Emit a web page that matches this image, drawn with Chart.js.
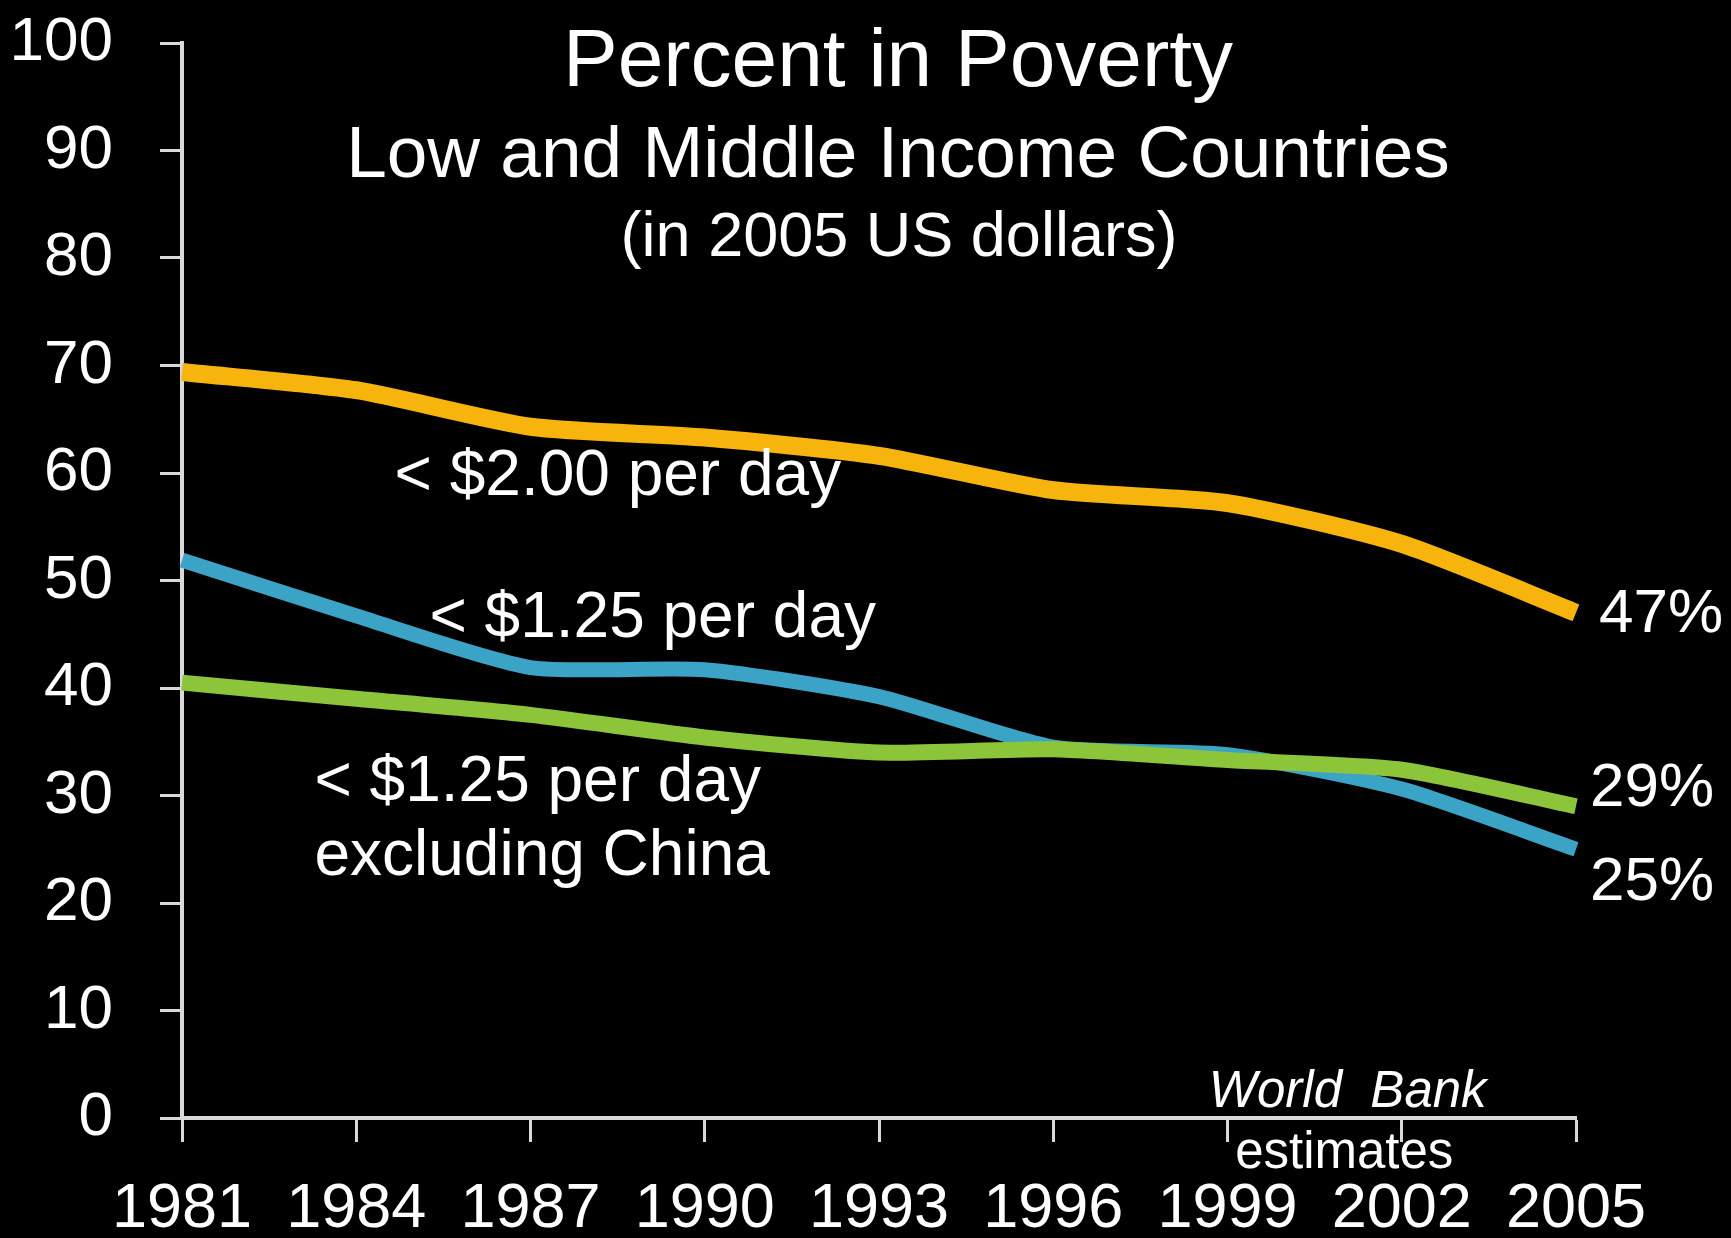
<!DOCTYPE html>
<html>
<head>
<meta charset="utf-8">
<title>Percent in Poverty</title>
<script src="https://cdn.jsdelivr.net/npm/chart.js@4.4.1/dist/chart.umd.min.js"></script>
<style>
  html, body { margin: 0; padding: 0; background: #000; }
  #wrap { width: 1731px; height: 1238px; position: relative; }
</style>
</head>
<body>
<div id="wrap"><canvas id="povertyChart"></canvas></div>
<script>
// survey years and poverty headcounts (% of population)
const years = ["1981", "1984", "1987", "1990", "1993", "1996", "1999", "2002", "2005"];
const under200 = [69.4, 67.7, 64.3, 63.3, 61.6, 58.4, 57.2, 53.4, 47];
const under125 = [51.9, 46.7, 41.9, 41.7, 39.2, 34.5, 33.8, 30.6, 25];
const under125exChina = [40.5, 39.0, 37.5, 35.4, 34.0, 34.3, 33.3, 32.4, 29];

const yTicks = [0, 10, 20, 30, 40, 50, 60, 70, 80, 90, 100];

const titleLines = ["Percent in Poverty", "Low and Middle Income Countries", "(in 2005 US dollars)"];
const seriesNames = ["< $2.00 per day", "< $1.25 per day", "< $1.25 per day\nexcluding China"];
const sourceNote = ["World  Bank", "estimates"];

const COLORS = { gold: "#f7b40c", blue: "#3ba3c5", green: "#8dc53a", axis: "#d9d9d9" };
const ARIAL = '"Liberation Sans", Arial, sans-serif';

/* ---------- text drawn over the plot ---------- */
const overlayText = {
  id: "overlayText",
  afterDatasetsDraw(chart) {
    const { ctx, scales: { x, y } } = chart;
    const last = years.length - 1;
    ctx.save();
    ctx.fillStyle = "#fff";

    // title block
    ctx.textAlign = "center";
    ctx.textBaseline = "alphabetic";
    ctx.font = `82px ${ARIAL}`;
    ctx.fillText(titleLines[0], 898, 86);
    ctx.font = `73px ${ARIAL}`;
    ctx.fillText(titleLines[1], 898, 177);
    ctx.font = `63px ${ARIAL}`;
    ctx.fillText(titleLines[2], 899, 256);

    // series names, anchored in data units (category index, percent)
    const names = [
      { text: seriesNames[0], at: [1.22, 58.0] },
      { text: seriesNames[1], at: [1.42, 44.7] },
      { text: seriesNames[2], at: [0.76, 29.5] }
    ];
    ctx.textAlign = "left";
    ctx.font = `64px ${ARIAL}`;
    names.forEach(n => {
      const px = x.getPixelForValue(n.at[0]);
      let py = y.getPixelForValue(n.at[1]);
      n.text.split("\n").forEach(line => {
        ctx.fillText(line, px, py);
        py += 74;
      });
    });

    // end-of-line values
    const ends = [
      { v: under200[last], dx: 23, dy: 2 },
      { v: under125exChina[last], dx: 14, dy: -17 },
      { v: under125[last], dx: 14, dy: 34 }
    ];
    ctx.font = `62px ${ARIAL}`;
    ctx.textBaseline = "middle";
    ends.forEach(e => {
      const px = x.getPixelForValue(last) + e.dx;
      const py = y.getPixelForValue(e.v) + e.dy;
      ctx.fillText(`${Math.round(e.v)}%`, px, py);
    });

    // source note
    ctx.textAlign = "center";
    ctx.textBaseline = "alphabetic";
    ctx.font = `italic 51px ${ARIAL}`;
    ctx.fillText(sourceNote[0], x.getPixelForValue(6.69), y.getPixelForValue(1.0));
    ctx.font = `51px ${ARIAL}`;
    ctx.fillText(sourceNote[1], x.getPixelForValue(6.67), y.getPixelForValue(-4.65));

    ctx.restore();
  }
};

function lineSet(label, data, color, width, order) {
  return {
    label, data, order,
    borderColor: color,
    backgroundColor: color,
    borderWidth: width,
    borderCapStyle: "butt",
    borderJoinStyle: "round",
    tension: 0.22,
    pointRadius: 0,
    fill: false
  };
}

new Chart(document.getElementById("povertyChart"), {
  type: "line",
  data: {
    labels: years,
    datasets: [
      lineSet("< $2.00 per day", under200, COLORS.gold, 18, 3),
      lineSet("< $1.25 per day", under125, COLORS.blue, 15, 2),
      lineSet("< $1.25 per day excluding China", under125exChina, COLORS.green, 16, 1)
    ]
  },
  options: {
    responsive: true,
    maintainAspectRatio: false,
    animation: false,
    layout: { padding: { top: 43, right: 155, left: 0, bottom: 0 } },
    plugins: {
      legend: { display: false },
      tooltip: { enabled: false },
      title: { display: false }
    },
    scales: {
      x: {
        offset: false,
        afterFit: s => { s.height = 120; s.paddingLeft = 0; s.paddingRight = 0; },
        border: { display: true, color: COLORS.axis, width: 4 },
        grid: { drawOnChartArea: false, drawTicks: true, tickLength: 24, tickWidth: 3, tickColor: COLORS.axis },
        ticks: { color: "#fff", padding: 30, maxRotation: 0, autoSkip: false,
                 font: { family: ARIAL, size: 63, lineHeight: 1.2 } }
      },
      y: {
        min: 0,
        max: 100,
        afterFit: s => { s.width = 182; s.paddingTop = 0; s.paddingBottom = 0; },
        afterBuildTicks: s => { s.ticks = yTicks.map(v => ({ value: v })); },
        border: { display: true, color: COLORS.axis, width: 4 },
        grid: { drawOnChartArea: false, drawTicks: true, tickLength: 22, tickWidth: 3, tickColor: COLORS.axis },
        ticks: { color: "#fff", padding: 47,
                 font: { family: ARIAL, size: 62, lineHeight: 1 } }
      }
    }
  },
  plugins: [overlayText]
});
</script>
</body>
</html>
